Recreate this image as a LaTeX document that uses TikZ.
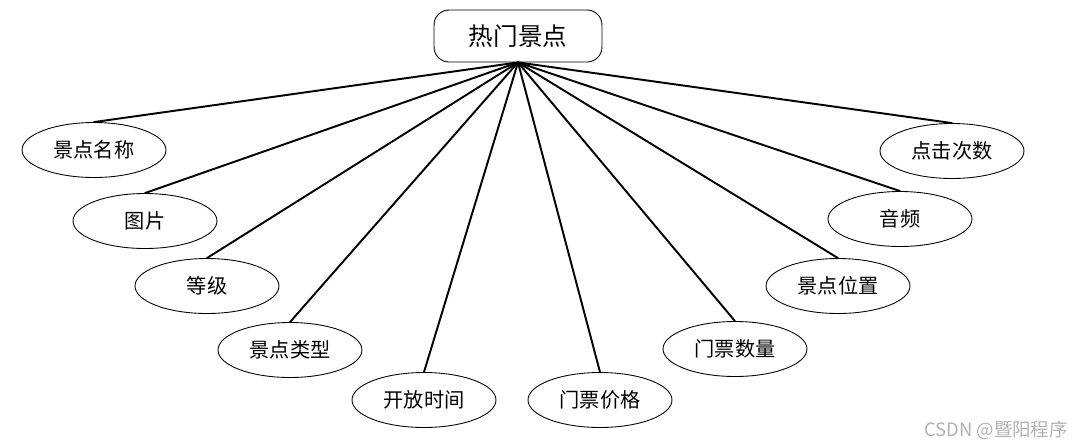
\documentclass[tikz,border=0pt]{standalone}
\usepackage{fontspec}
\setmainfont{Noto Sans CJK SC}
\usetikzlibrary{shapes.geometric}
\tikzset{
  attr/.style={ellipse,draw,line width=0.5pt,minimum width=2.88cm,minimum height=1.1cm,inner sep=0pt,font=\fontsize{11.5}{12}\selectfont},
  entity/.style={rectangle,rounded corners=0.3cm,draw,line width=0.5pt,minimum width=3.36cm,minimum height=1.04cm,inner sep=0pt,font=\fontsize{14}{15}\selectfont},
  link/.style={line width=1.1pt}
}
\begin{document}
\begin{tikzpicture}[x=0.02cm,y=-0.02cm,line cap=round,line join=round]
  \useasboundingbox (0,0) rectangle (1079,447);
  \node[entity] (spot) at (518,36) {热门景点};
  \foreach \nm/\px/\py/\txt in {name/94/150/景点名称, pic/145/221/图片, grade/207/286/等级,
      kind/290/350/景点类型, open/424/400/开放时间, price/600/400/门票价格,
      amount/735/349/门票数量, place/838/286/景点位置, audio/900/219/音频, clicks/952/151/点击次数}
  {
    \node[attr] (\nm) at (\px,\py) {\txt};
    \draw[link] (spot.south) -- (\nm.north);
  }
  \node[text=black!30,font=\fontsize{10.5}{11}\selectfont,anchor=east] (mark) at (1074,430) {CSDN @暨阳程序};
\end{tikzpicture}
\end{document}
